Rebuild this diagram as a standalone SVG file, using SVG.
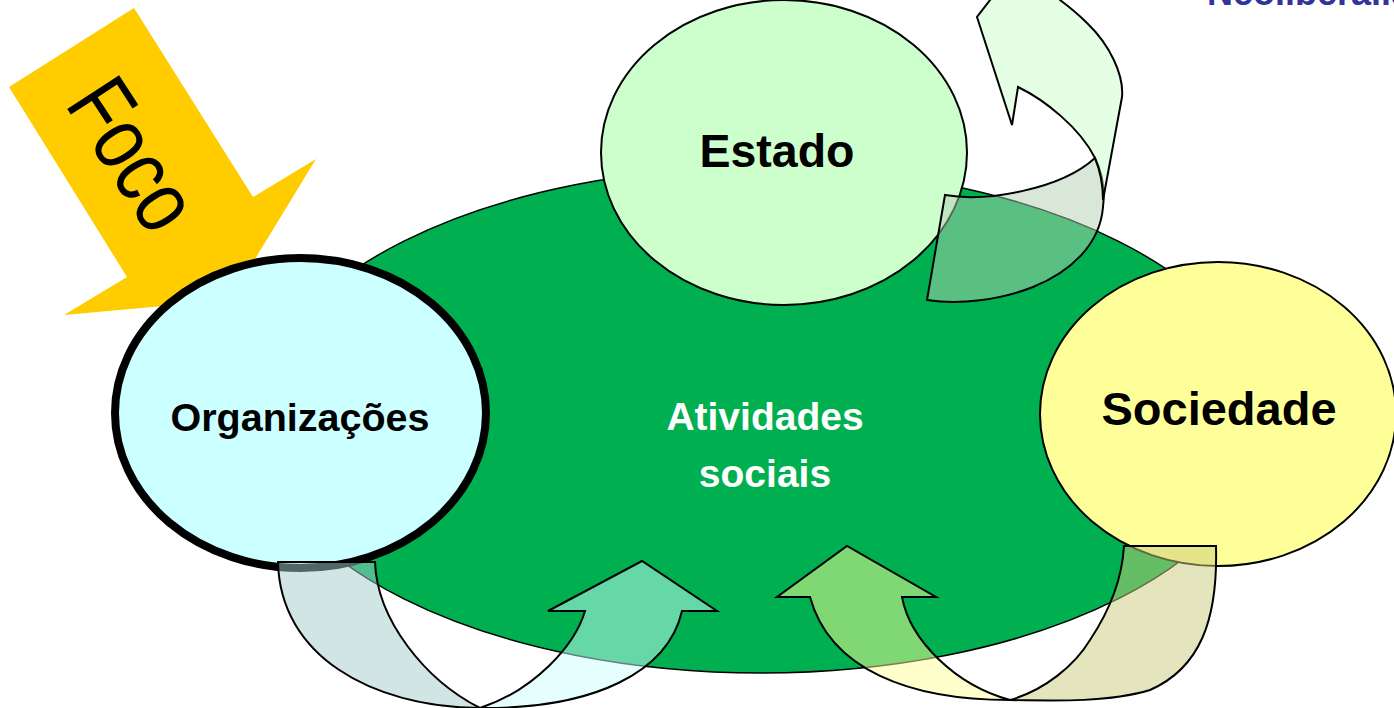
<svg xmlns="http://www.w3.org/2000/svg" width="1394" height="708" viewBox="0 0 1394 708">
<style>
.lbl{font-family:"Liberation Sans",Arial,sans-serif;font-weight:bold;text-anchor:middle;fill:#000}
.wht{fill:#fff}
.node{stroke:#000;stroke-width:2}
.arr{stroke:#000;stroke-width:2;stroke-linejoin:miter}
</style>
<rect width="1394" height="708" fill="#fff"/>
<text x="1207" y="5" font-family="Liberation Sans, Arial, sans-serif" font-weight="bold" font-size="36" fill="#333399">Neoliberalismo</text>
<g id="foco">
<polygon points="134,8 253,197 316,159 230,300 64,315 127,277 9,87" fill="#ffcc00"/>
<text transform="translate(64,104) rotate(57) scale(0.8,1)" font-family="Liberation Sans, Arial, sans-serif" font-size="90" fill="#000">Foco</text>
</g>
<g id="atividades">
<ellipse cx="761" cy="420" rx="505" ry="253" fill="#00b050" stroke="#000" stroke-width="1.5"/>
<text class="lbl wht" x="765" y="430" font-size="39">Atividades</text>
<text class="lbl wht" x="765" y="487" font-size="39">sociais</text>
</g>
<g id="estado">
<ellipse class="node" cx="784" cy="152.5" rx="183" ry="152.5" fill="#ccffcc"/>
<text class="lbl" x="777" y="167" font-size="46.5">Estado</text>
</g>
<g id="organizacoes">
<ellipse cx="300.5" cy="413" rx="185.5" ry="155" fill="#ccffff" stroke="#000" stroke-width="8"/>
<text class="lbl" x="300" y="431" font-size="39.5">Organizações</text>
</g>
<g id="sociedade">
<ellipse class="node" cx="1218" cy="414" rx="178" ry="152" fill="#ffff99"/>
<text class="lbl" x="1219" y="425" font-size="47">Sociedade</text>
</g>
<g id="connectors">
<g id="arrow-organizacoes">
<path class="arr" fill="#a3cbcb" fill-opacity="0.5" d="M278,562 C280,655 370,707 480,708 C425,680 377,620 375,562 Z"/>
<path class="arr" fill="#ccffff" fill-opacity="0.5" d="M480,708 C595,709 668,672 682,611 L717,611 L642,561 L548,611 L585,611 C575,645 535,690 480,708 Z"/>
</g>
<g id="arrow-sociedade">
<path class="arr" fill="#c9c97b" fill-opacity="0.5" d="M1124,546 L1216,546 C1218,620 1200,668 1150,690 C1110,702 1060,701 1010,700 C1045,690 1075,665 1090,640 C1110,610 1122,580 1124,546 Z"/>
<path class="arr" fill="#ffff99" fill-opacity="0.5" d="M1010,700 C910,700 830,670 810,597 L777,597 L847,546 L936,597 L902,597 C910,640 955,685 1010,700 Z"/>
</g>
<g id="arrow-estado">
<path class="arr" fill="#b3cfb3" fill-opacity="0.5" d="M945,195 C985,202 1060,190 1095,158 C1102,172 1105,190 1103,207 C1100,245 1070,272 1033,287 C1000,300 960,305 927,300 Z"/>
<path class="arr" fill="#ccffcc" fill-opacity="0.5" d="M1018,87 C1045,100 1080,128 1095,158 C1100,170 1103,185 1103,200 L1122,97 C1124,75 1110,45 1087,23 C1078,14 1068,6 1060,0 L1045,-25 L1040,-65 L977,17 L1012,125 Z"/>
</g>
</g>
</svg>
